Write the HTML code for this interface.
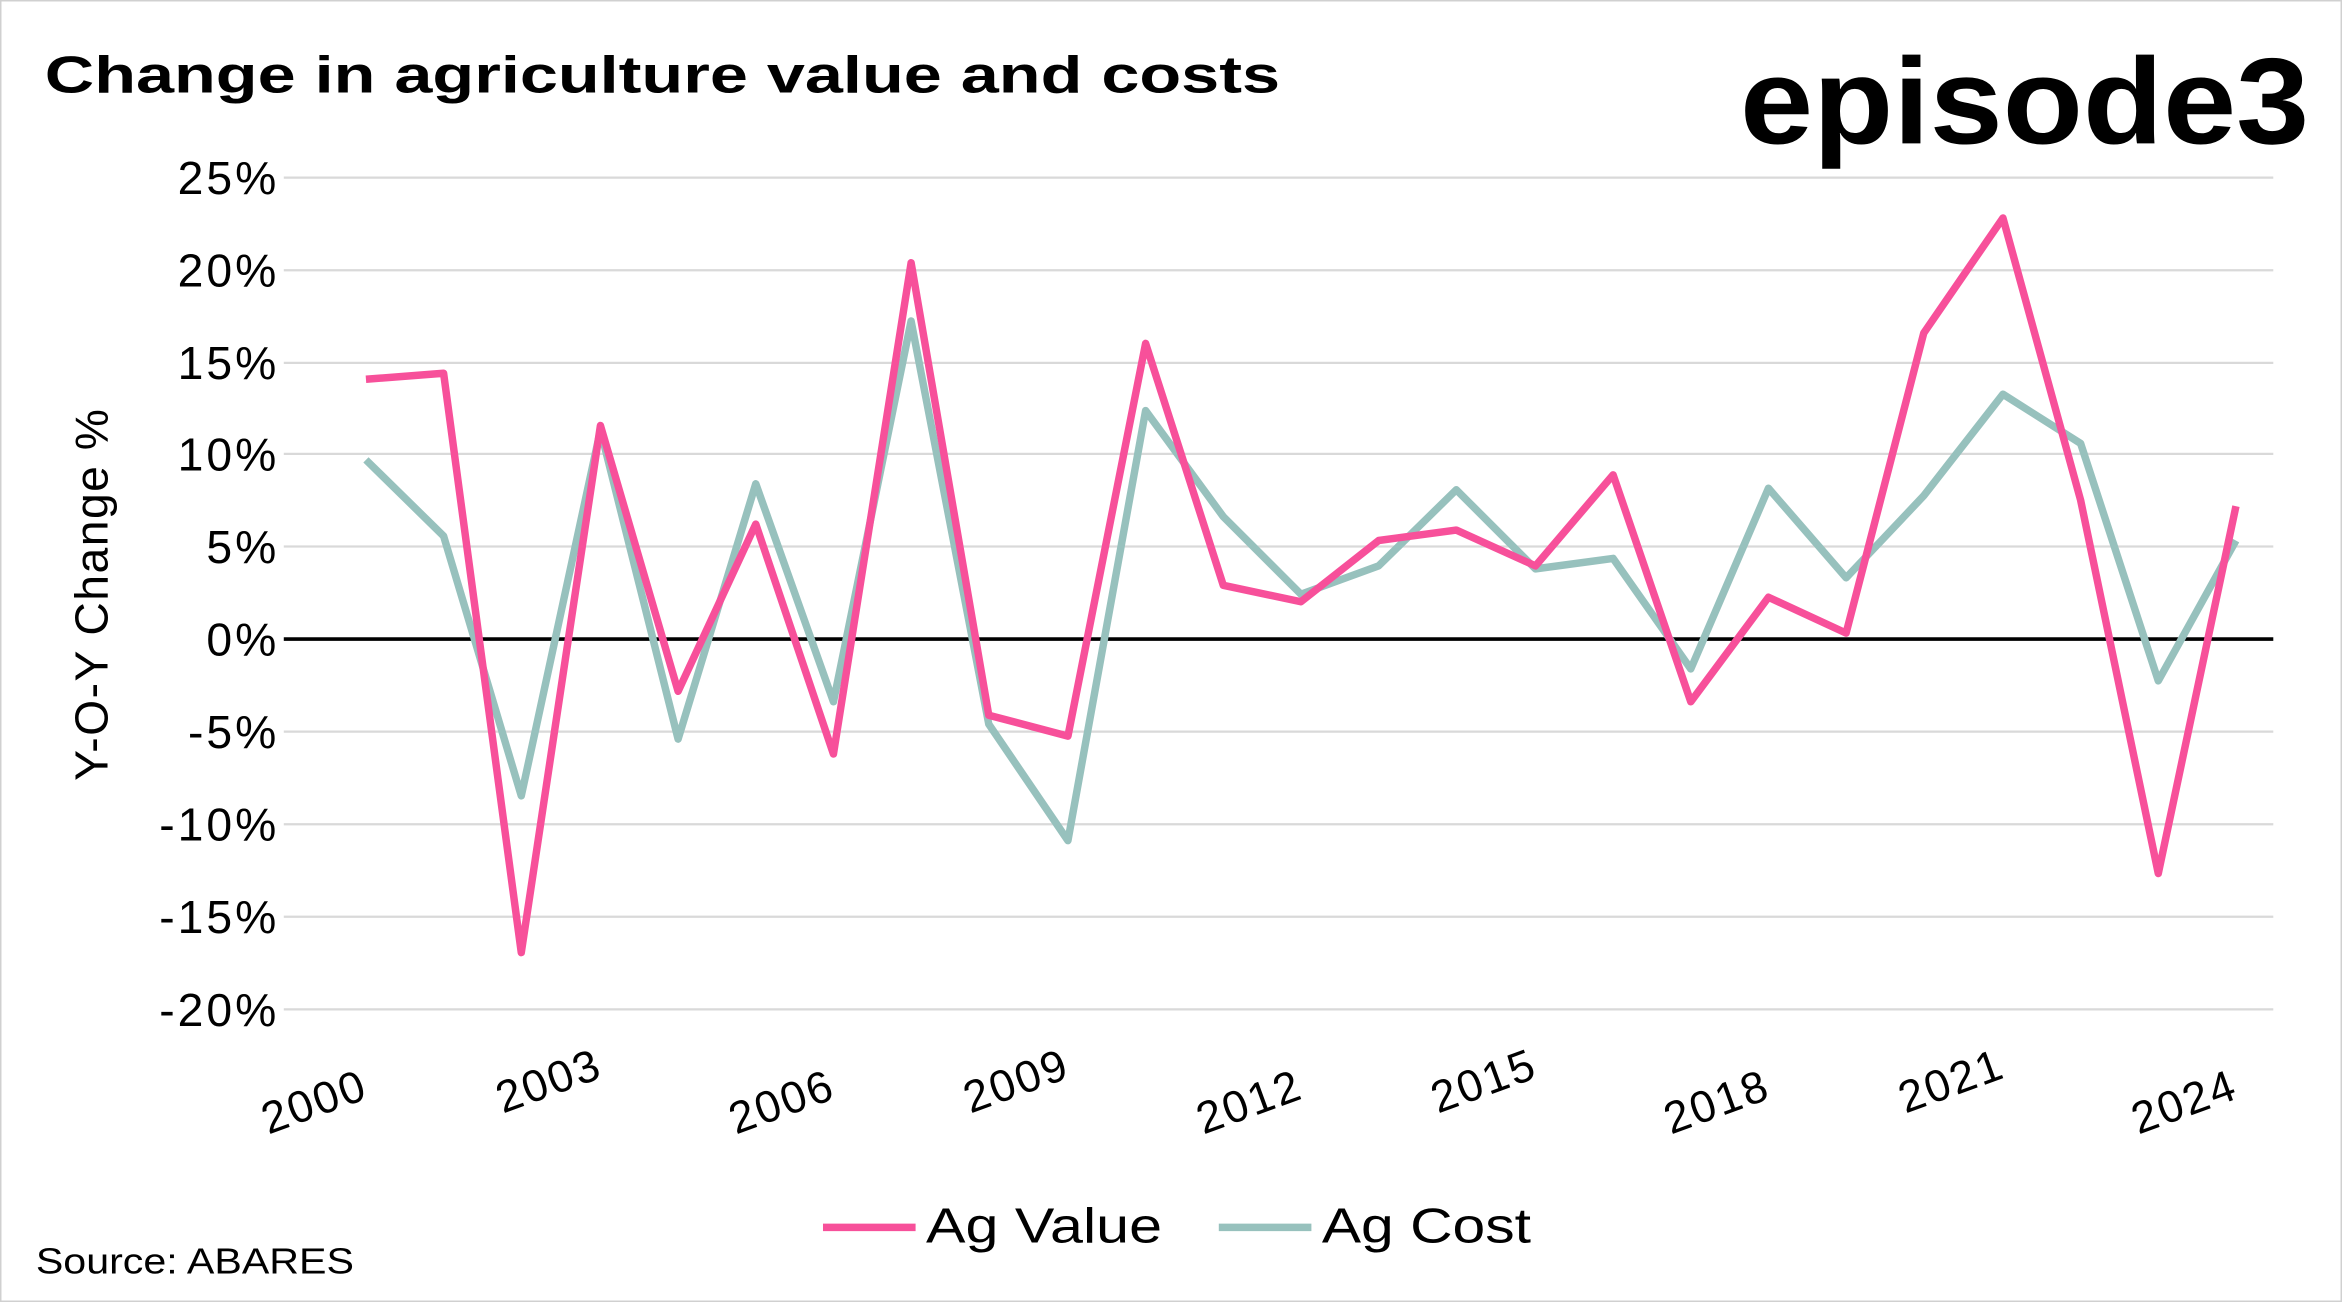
<!DOCTYPE html>
<html><head><meta charset="utf-8"><style>
html,body{margin:0;padding:0;background:#fff;}
svg{display:block;}
text{font-family:"Liberation Sans",sans-serif;}
</style></head><body>
<svg width="2342" height="1302" viewBox="0 0 1568 872" preserveAspectRatio="none" xmlns="http://www.w3.org/2000/svg">
<rect x="0.5" y="0.5" width="1567" height="871" fill="#fff" stroke="#d0d0d0"/>
<text x="30" y="62" font-size="35" font-weight="bold" fill="#000" textLength="827" lengthAdjust="spacingAndGlyphs">Change in agriculture value and costs</text>
<text x="1165" y="96" font-size="82" font-weight="bold" fill="#000" textLength="381" lengthAdjust="spacingAndGlyphs">episode3</text>
<g stroke="#d9d9d9" stroke-width="1.5">
<line x1="190" x2="1522" y1="119" y2="119"/>
<line x1="190" x2="1522" y1="181" y2="181"/>
<line x1="190" x2="1522" y1="243" y2="243"/>
<line x1="190" x2="1522" y1="304" y2="304"/>
<line x1="190" x2="1522" y1="366" y2="366"/>
<line x1="190" x2="1522" y1="490" y2="490"/>
<line x1="190" x2="1522" y1="552" y2="552"/>
<line x1="190" x2="1522" y1="614" y2="614"/>
<line x1="190" x2="1522" y1="676" y2="676"/>
</g>
<line x1="190" x2="1522" y1="428" y2="428" stroke="#000" stroke-width="2.5"/>
<g font-size="31" fill="#000" text-anchor="end" letter-spacing="2">
<text x="187" y="130">25%</text>
<text x="187" y="192">20%</text>
<text x="187" y="254">15%</text>
<text x="187" y="315">10%</text>
<text x="187" y="377">5%</text>
<text x="187" y="439">0%</text>
<text x="187" y="501">-5%</text>
<text x="187" y="563">-10%</text>
<text x="187" y="625">-15%</text>
<text x="187" y="687">-20%</text>
</g>
<text transform="translate(72,398) rotate(-90)" font-size="31" text-anchor="middle" fill="#000" letter-spacing="1">Y-O-Y Change %</text>
<g font-size="30" fill="#000" text-anchor="end" letter-spacing="1.5">
<text transform="translate(248,735) rotate(-20)">2000</text>
<text transform="translate(405,721) rotate(-20)">2003</text>
<text transform="translate(561,735) rotate(-20)">2006</text>
<text transform="translate(718,721) rotate(-20)">2009</text>
<text transform="translate(874,735) rotate(-20)">2012</text>
<text transform="translate(1031,721) rotate(-20)">2015</text>
<text transform="translate(1187,735) rotate(-20)">2018</text>
<text transform="translate(1344,721) rotate(-20)">2021</text>
<text transform="translate(1500,735) rotate(-20)">2024</text>
</g>
<polyline fill="none" stroke="#97c1bd" stroke-width="5" stroke-linejoin="round" points="245,308 297,359 349,533 402,288 454,495 506,324 558,470 610,215 662,485 715,563 767,275 819,346 871,398 923,379 975,328 1028,381 1080,374 1132,448 1184,327 1236,387 1288,332 1341,264 1393,297 1445,456 1497,362"/>
<polyline fill="none" stroke="#f7509a" stroke-width="5" stroke-linejoin="round" points="245,254 297,250 349,638 402,285 454,463 506,351 558,505 610,176 662,479 715,493 767,230 819,392 871,403 923,362 975,355 1028,379 1080,318 1132,470 1184,400 1236,424 1288,223 1341,146 1393,335 1445,585 1497,339"/>
<line x1="551" x2="613" y1="822" y2="822" stroke="#f7509a" stroke-width="5"/>
<text x="620" y="832" font-size="33" fill="#000" textLength="158" lengthAdjust="spacingAndGlyphs">Ag Value</text>
<line x1="816" x2="878" y1="822" y2="822" stroke="#97c1bd" stroke-width="5"/>
<text x="885" y="832" font-size="33" fill="#000" textLength="140" lengthAdjust="spacingAndGlyphs">Ag Cost</text>
<text x="24" y="853" font-size="24" fill="#000" textLength="213" lengthAdjust="spacingAndGlyphs">Source: ABARES</text>
</svg>
</body></html>
